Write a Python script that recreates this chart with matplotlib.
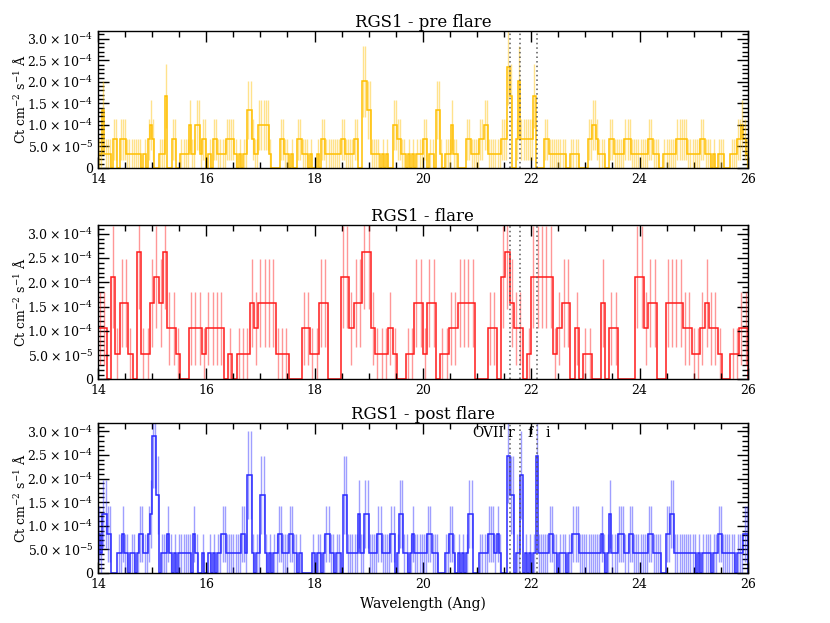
import numpy as np
import matplotlib.pyplot as plt
from matplotlib.ticker import MultipleLocator, FuncFormatter

plt.rcParams['font.family'] = 'DejaVu Serif'
plt.rcParams['mathtext.fontset'] = 'dejavuserif'

# RGS1 spectra, 14-26 Ang
bin_start = 14.0
pre_width = 0.04    # one string per Angstrom
flare_width = 0.08  # one string per 2 Angstrom
post_width = 0.04   # one string per Angstrom

pre_counts = [
    "1141110220222111111101023",  # 14
    "2001115002200111131133122",  # 15
    "0102211112222101011442113",  # 16
    "3333100002211010022111010",  # 17
    "0102211111112211112200664",  # 18
    "4111101010033221101010111",  # 19
    "2201104410111311000022111",  # 20
    "1223311111122275002622222",  # 21
    "2500002211111111001111000",  # 22
    "0223321110022111112221111",  # 23
    "1111221110011111122222111",  # 24
    "1112211101011100011122321",  # 25
]
flare_counts = [
    "2204133105113435221002221",  # 14-16
    "2222010111323333111000221",  # 16-18
    "1330004423355211121001133",  # 18-20
    "1330112233330002204532201",  # 20-22
    "4444412330201100302200004",  # 22-24
    "4233003333221123221001122",  # 24-26
]
post_counts = [
    "2133220001121101101221123",  # 14
    "7740111210101111110210010",  # 15
    "0101011221111111221551011",  # 16
    "4410101122111221101000001",  # 17
    "0110122110110441111131133",  # 18
    "1111221111220133110121111",  # 19
    "1122111000112210101013300",  # 20
    "0111122212100064401150101",  # 21
    "0161111122110111011222111",  # 22
    "1111111210131112221122111",  # 23
    "1111221111002233111111111",  # 24
    "1010111101122111111011122",  # 25
]

# flux of one count per bin (Ct cm^-2 s^-1 A)
pre_unit = 3.35e-5
flare_unit = 5.25e-5
post_unit = 4.15e-5

titles = ['RGS1 - pre flare', 'RGS1 - flare', 'RGS1 - post flare']
colors = ['#FFC000', '#FF1A1A', '#2A2AFF']
line_waves = [21.60, 21.80, 22.10]
line_names = ['OVII', 'r', 'f', 'i']
line_name_x = [21.21, 21.62, 21.975, 22.30]


def sci_fmt(v, pos):
    if abs(v) < 1e-12:
        return '0'
    e = int(np.floor(np.log10(abs(v)) + 1e-9))
    return r'$%.1f\times10^{%d}$' % (v / 10**e, e)


fig = plt.figure(figsize=(8.3, 6.23), dpi=100)
boxes = [[0.118, 0.7303, 0.783, 0.2199],
         [0.118, 0.3909, 0.783, 0.2480],
         [0.118, 0.0803, 0.783, 0.2408]]

panels = [(pre_counts, pre_unit, pre_width),
          (flare_counts, flare_unit, flare_width),
          (post_counts, post_unit, post_width)]

for k, ((counts, unit, width), box) in enumerate(zip(panels, boxes)):
    ax = fig.add_axes(box)
    n = np.array([int(c) for c in ''.join(counts)])
    edges = bin_start + width * np.arange(len(n) + 1)
    centers = edges[:-1] + width / 2
    y = n * unit
    err = np.sqrt(n) * unit
    m = n > 0
    ax.vlines(centers[m], (y - err)[m], (y + err)[m], color=colors[k], alpha=0.45, lw=1)
    ax.stairs(y, edges, color=colors[k], lw=1.1)
    for w in line_waves:
        ax.axvline(w, color='0.35', ls=(0, (1, 2)), lw=1.1)

    ax.set_xlim(14, 26)
    ax.set_ylim(0, 3.18e-4)
    ax.xaxis.set_major_locator(MultipleLocator(2))
    ax.xaxis.set_minor_locator(MultipleLocator(0.5))
    ax.yaxis.set_major_locator(MultipleLocator(5e-5))
    ax.yaxis.set_minor_locator(MultipleLocator(1e-5))
    ax.yaxis.set_major_formatter(FuncFormatter(sci_fmt))
    ax.tick_params(which='both', direction='in', top=True, right=True, labelsize=9, width=1)
    ax.tick_params(which='major', length=8)
    ax.tick_params(which='minor', length=4)
    for s in ax.spines.values():
        s.set_linewidth(1)
    ax.set_title(titles[k], fontsize=12, pad=3)
    ax.set_ylabel(r'Ct cm$^{-2}$ s$^{-1}$ Å', fontsize=9)
    ax.yaxis.set_label_coords(-0.108, 0.5)

    if k == 2:
        ax.set_xlabel('Wavelength (Ang)', fontsize=10)
        for name, xn in zip(line_names, line_name_x):
            ax.text(xn, 2.97e-4, name, ha='center', va='center', fontsize=10)

fig.savefig('out.png', dpi=100)
